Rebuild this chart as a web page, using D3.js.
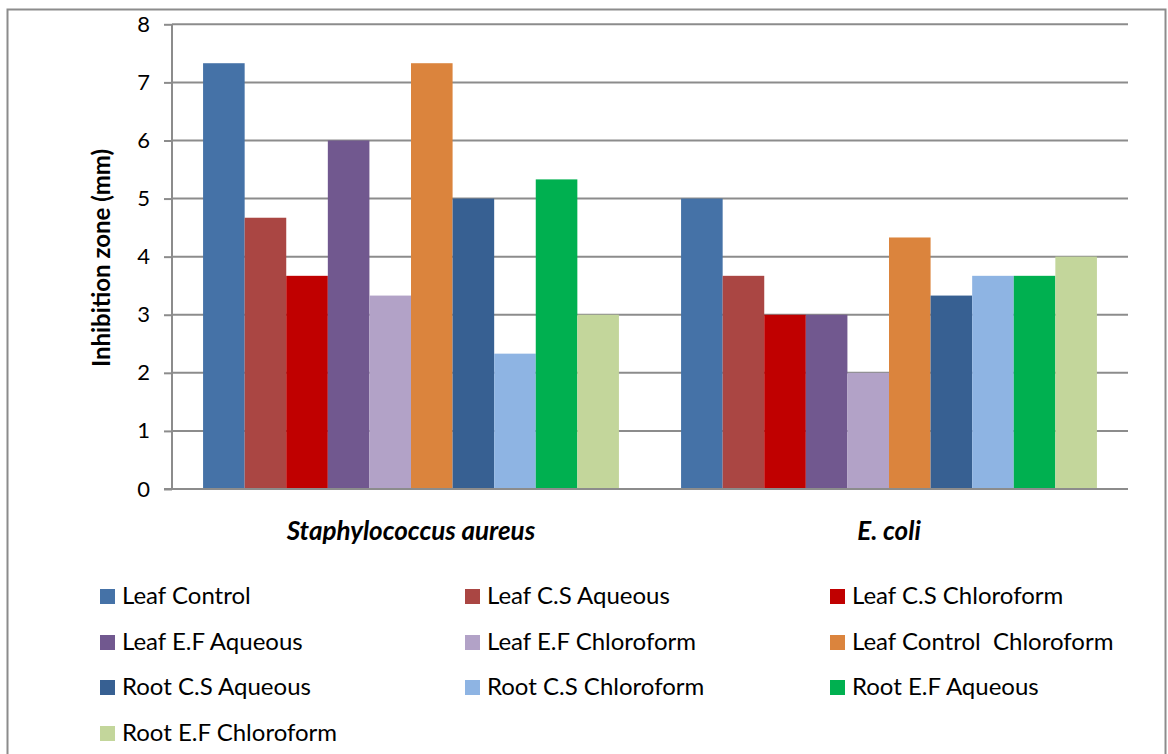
<!DOCTYPE html>
<html><head><meta charset="utf-8">
<script src="https://cdn.jsdelivr.net/npm/d3@7"></script>
<style>body{margin:0;background:#fff}</style>
</head><body>
<svg id="c" width="1168" height="754"></svg>
<script>
const categories = ["Staphylococcus aureus", "E. coli"];
const seriesNames = ["Leaf Control","Leaf C.S Aqueous","Leaf C.S Chloroform","Leaf E.F Aqueous","Leaf E.F Chloroform","Leaf Control  Chloroform","Root C.S Aqueous","Root C.S Chloroform","Root E.F Aqueous","Root E.F Chloroform"];
const staphValues = [7.33,4.67,3.67,6,3.33,7.33,5,2.33,5.33,3];
const ecoliValues = [5,3.67,3,3,2,4.33,3.33,3.67,3.67,4];
const colors = ["#4572A7","#AA4643","#C00000","#71588F","#B2A2C7","#DB843D","#376092","#8EB4E3","#00B050","#C3D69B"];
const yTicks = [0,1,2,3,4,5,6,7,8];

const values = [staphValues, ecoliValues];
const svg = d3.select("#c");
const font = "Lato, 'Open Sans', sans-serif";

svg.append("rect").attr("x",7.5).attr("y",9.5).attr("width",1158).attr("height",760)
  .attr("fill","none").attr("stroke","#8c8c8c").attr("stroke-width",2);

const x0 = d3.scaleBand().domain(categories).range([172,1128]).paddingInner(0.13).paddingOuter(0.065);
const x1 = d3.scaleBand().domain(d3.range(seriesNames.length)).range([0,x0.bandwidth()]);
const y = d3.scaleLinear().domain([0,8]).range([489,24.3]);

const yAxis = d3.axisLeft(y).tickValues(yTicks).tickSize(8).tickPadding(14);
const g = svg.append("g").attr("transform","translate(172,0)").call(yAxis);
g.select(".domain").attr("stroke","#8c8c8c").attr("stroke-width",2).attr("d","M0,24.3V489");
g.selectAll(".tick line").attr("stroke","#8c8c8c").attr("stroke-width",2);
g.selectAll(".tick text").attr("font-family",font).attr("font-size",22).attr("fill","#000");
svg.append("g").selectAll("line").data(yTicks.filter(d=>d>0)).join("line")
  .attr("x1",172).attr("x2",1128).attr("y1",d=>y(d)).attr("y2",d=>y(d))
  .attr("stroke","#8c8c8c").attr("stroke-width",2);

categories.forEach((c,ci)=>{
  svg.append("g").selectAll("rect").data(values[ci]).join("rect")
    .attr("x",(d,i)=>x0(c)+x1(i)).attr("width",x1.bandwidth())
    .attr("y",d=>y(d)).attr("height",d=>y(0)-y(d))
    .attr("fill",(d,i)=>colors[i]);
  svg.append("text").attr("x",x0(c)+x0.bandwidth()/2).attr("y",540)
    .attr("text-anchor","middle").attr("font-family",font).attr("font-size",26)
    .attr("font-weight","bold").attr("font-style","italic").text(c);
});
svg.append("line").attr("x1",164).attr("x2",1128).attr("y1",y(0)).attr("y2",y(0))
  .attr("stroke","#8c8c8c").attr("stroke-width",2);

svg.append("text").attr("transform","translate(110,258) rotate(-90)")
  .attr("text-anchor","middle").attr("font-family",font).attr("font-size",24)
  .attr("font-weight","bold").text("Inhibition zone (mm)");

const colX = [100,465,830];
const rowY = [596,642,687,733];
seriesNames.forEach((s,i)=>{
  const cx = colX[i%3], cy = rowY[Math.floor(i/3)];
  svg.append("rect").attr("x",cx).attr("y",cy-7).attr("width",15).attr("height",15).attr("fill",colors[i]);
  svg.append("text").attr("x",cx+22).attr("y",cy+8).attr("font-family",font)
    .attr("font-size",24).attr("xml:space","preserve").style("white-space","pre").text(s);
});
</script>
</body></html>
